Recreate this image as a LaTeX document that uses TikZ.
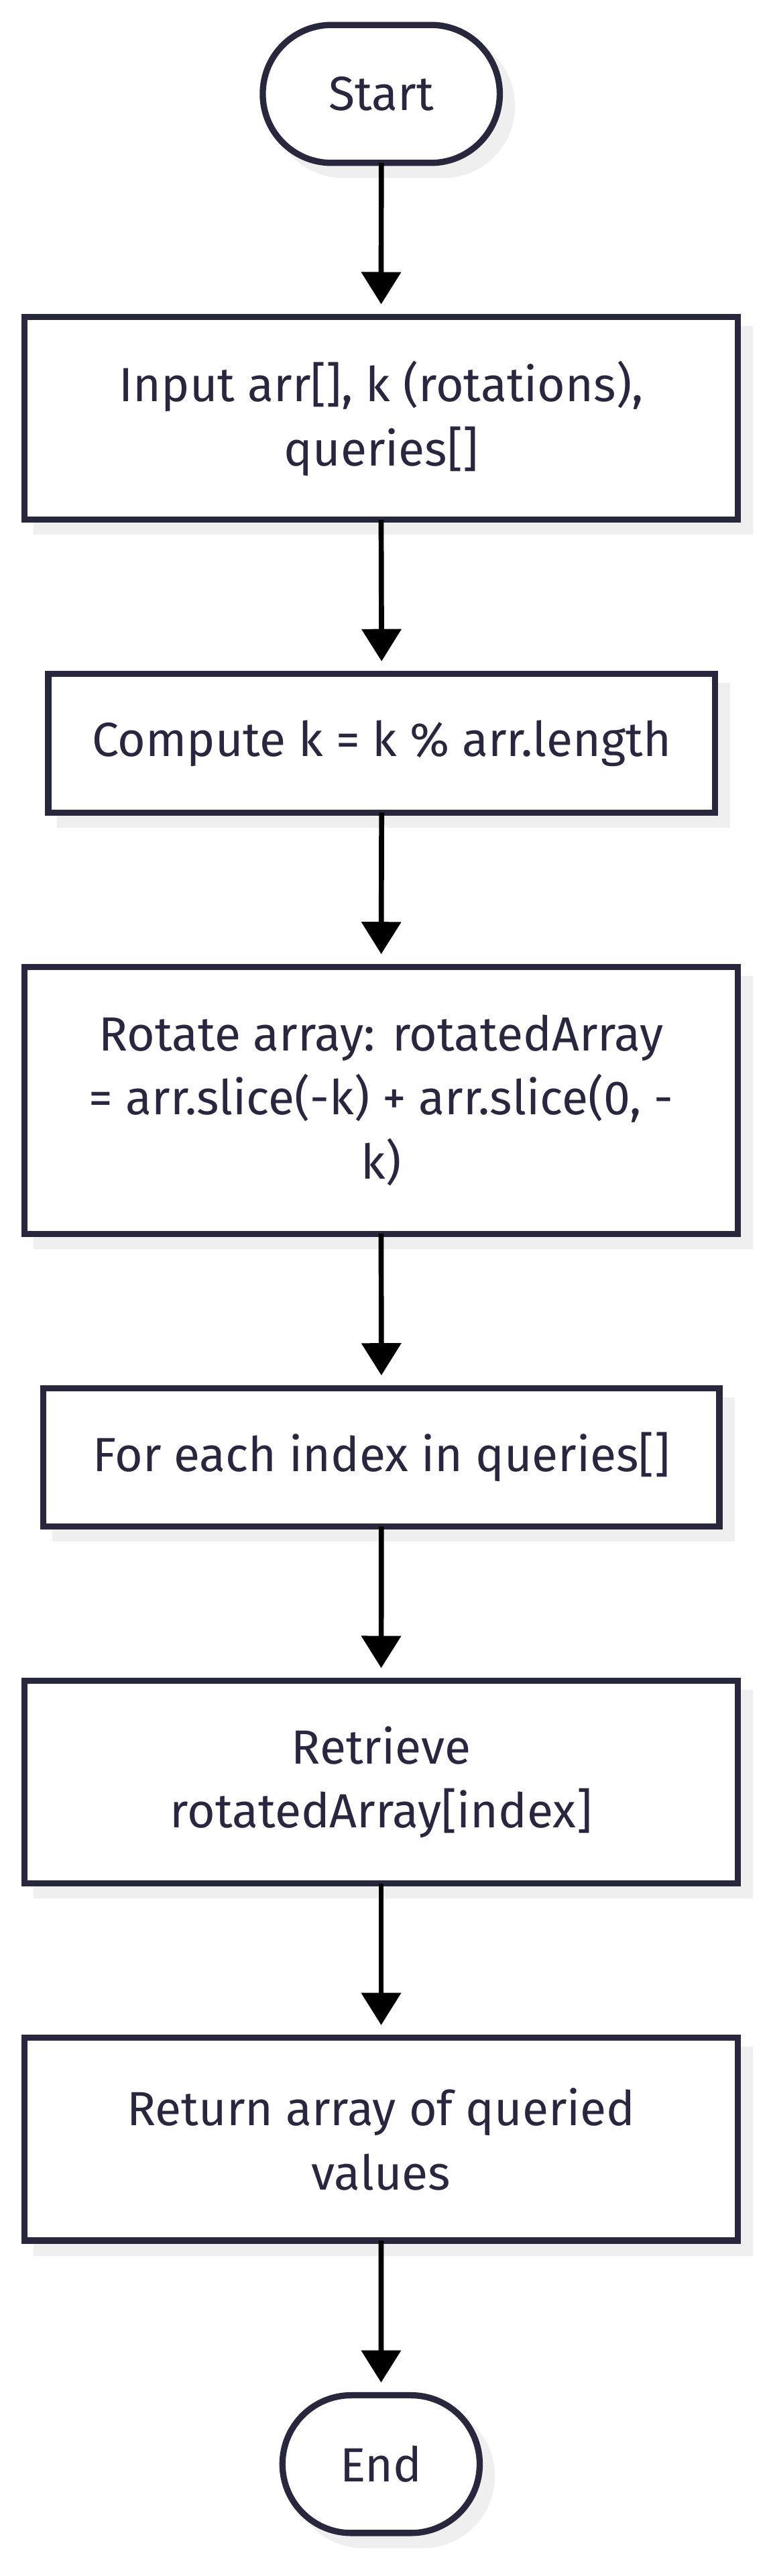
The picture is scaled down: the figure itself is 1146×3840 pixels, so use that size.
\documentclass[tikz,border=0pt]{standalone}
\usepackage{fontspec}
\setmainfont{Fira Sans}
\usetikzlibrary{arrows.meta,shadows}
\definecolor{ink}{HTML}{27273D}
\definecolor{txt}{HTML}{28273F}
\definecolor{shade}{HTML}{EFEFEF}
\begin{document}
\begin{tikzpicture}[x=1pt,y=1pt,
  base/.style={draw=ink, line width=9.3pt, fill=white, text=txt, align=center,
    outer sep=0pt, inner sep=0pt, font=\fontsize{71.5}{95.7}\selectfont,
    drop shadow={shadow xshift=18pt, shadow yshift=-18pt, fill=shade, draw=shade, line width=9.3pt, opacity=1}},
  procbox/.style={base, rectangle},
  term/.style={base, rectangle, rounded corners=102.5pt},
  flow/.style={draw=black, line width=7.7pt, -{Triangle[width=58pt,length=48pt]}, shorten >=19pt}
]
\useasboundingbox (0,0) rectangle (1146,-3840);
\fill[white] (0,0) rectangle (1146,-3840);

\node[term, minimum width=353.5pt, minimum height=205.6pt] (start) at (568.7,-140) {Start};
\node[procbox, minimum width=1063.6pt, minimum height=302.3pt] (input) at (568.5,-623.65) {Input arr[], k (rotations),\\queries[]};
\node[procbox, minimum width=994.3pt, minimum height=206.6pt] (compute) at (569.2,-1108) {Compute k = k \% arr.length};
\node[procbox, minimum width=1063.6pt, minimum height=398pt] (rotate) at (568.5,-1640.2) {Rotate array: rotatedArray\\= arr.slice(-k) + arr.slice(0, -\\k)};
\node[procbox, minimum width=1008.3pt, minimum height=206.4pt] (loop) at (568.85,-2172.4) {For each index in queries[]};
\node[procbox, minimum width=1063.6pt, minimum height=302.3pt] (retrieve) at (568.5,-2656.65) {Retrieve\\rotatedArray[index]};
\node[procbox, minimum width=1063.6pt, minimum height=302.3pt] (return) at (568.5,-3188.85) {Return array of queried\\values};
\node[term, minimum width=294.2pt, minimum height=205.3pt] (end) at (568.4,-3673.2) {End};

\draw[flow] (start.south) -- (input.north);
\draw[flow] (input.south) -- (compute.north);
\draw[flow] (compute.south) -- (rotate.north);
\draw[flow] (rotate.south) -- (loop.north);
\draw[flow] (loop.south) -- (retrieve.north);
\draw[flow] (retrieve.south) -- (return.north);
\draw[flow] (return.south) -- (end.north);
\end{tikzpicture}
\end{document}
